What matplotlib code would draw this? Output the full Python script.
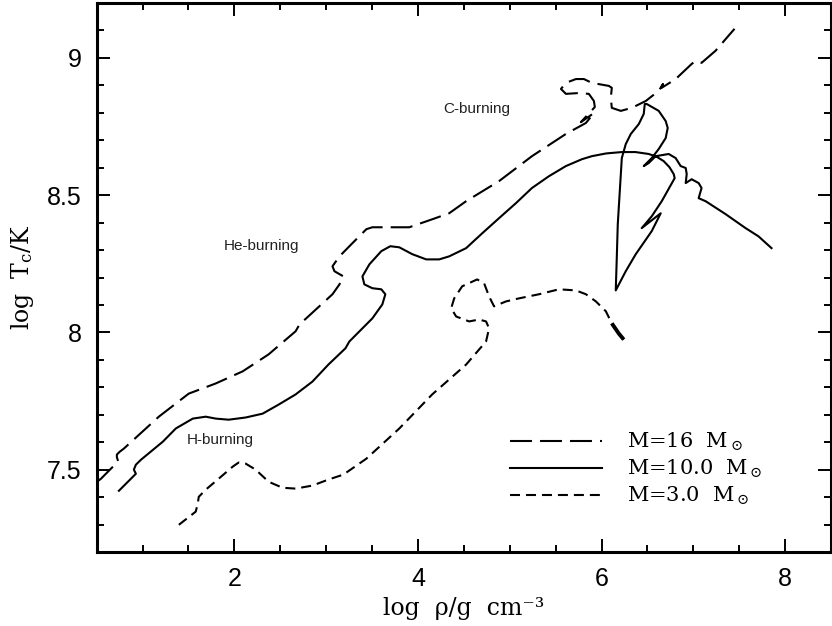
import matplotlib
matplotlib.use("Agg")
import matplotlib.pyplot as plt
from matplotlib.ticker import MultipleLocator, FuncFormatter

plt.rcParams["mathtext.fontset"] = "dejavuserif"
plt.rcParams["lines.scale_dashes"] = False

# central density / temperature tracks (log rho, log Tc)
rho_16 = [0.503, 0.547, 0.71, 0.735, 0.72, 0.72, 0.75, 0.797, 1.177, 1.503, 1.797,
          2.09, 2.373, 2.667, 2.71, 3.069, 3.145, 3.188, 3.09, 3.069, 3.145, 3.286,
          3.438, 3.503, 3.721, 3.905, 4.155, 4.34, 4.525, 4.883, 5.242, 5.612, 5.83,
          5.917, 5.775, 5.927, 5.917, 5.862, 5.753, 5.612, 5.558, 5.612, 5.721, 5.808,
          5.895, 6.08, 6.112, 6.101, 6.112, 6.21, 6.33, 6.482, 6.623, 6.67, 6.65,
          6.808, 6.982, 7.025, 7.09, 7.242, 7.449]
tc_16 = [7.456, 7.467, 7.522, 7.53, 7.545, 7.555, 7.565, 7.577, 7.693, 7.777, 7.814,
         7.858, 7.920, 8.004, 8.029, 8.139, 8.175, 8.204, 8.223, 8.241, 8.277, 8.325,
         8.376, 8.383, 8.383, 8.383, 8.412, 8.434, 8.478, 8.551, 8.642, 8.723, 8.763,
         8.799, 8.766, 8.821, 8.843, 8.869, 8.872, 8.869, 8.887, 8.909, 8.923, 8.923,
         8.909, 8.898, 8.891, 8.854, 8.818, 8.807, 8.818, 8.843, 8.880, 8.905, 8.89,
         8.923, 8.978, 8.989, 8.982, 9.026, 9.106]

rho_10 = [0.742, 0.927, 0.905, 0.927, 0.982, 1.221, 1.362, 1.547, 1.688, 1.797, 1.938,
          2.123, 2.308, 2.482, 2.667, 2.851, 3.025, 3.21, 3.253, 3.503, 3.612, 3.645,
          3.601, 3.503, 3.416, 3.395, 3.471, 3.601, 3.699, 3.797, 3.938, 4.09, 4.232,
          4.34, 4.525, 4.70, 4.883, 5.068, 5.242, 5.427, 5.612, 5.787, 5.895, 6.05,
          6.221, 6.37, 6.514, 6.60, 6.677, 6.74, 6.786, 6.797,
          6.656, 6.547, 6.438, 6.645, 6.547, 6.373, 6.264, 6.155, 6.166, 6.177, 6.199,
          6.221, 6.264, 6.319, 6.406, 6.460, 6.471, 6.493, 6.623, 6.699, 6.721, 6.699,
          6.623, 6.547, 6.460, 6.514, 6.590, 6.732, 6.808, 6.862, 6.917, 6.928, 6.917,
          6.982, 7.058, 7.090, 7.058, 7.134, 7.351, 7.569, 7.710, 7.852]
tc_10 = [7.423, 7.485, 7.500, 7.518, 7.536, 7.602, 7.650, 7.686, 7.693, 7.686, 7.682,
         7.690, 7.704, 7.737, 7.774, 7.821, 7.883, 7.942, 7.967, 8.051, 8.102, 8.139,
         8.157, 8.161, 8.175, 8.204, 8.248, 8.296, 8.314, 8.310, 8.285, 8.266, 8.266,
         8.277, 8.307, 8.361, 8.416, 8.471, 8.526, 8.569, 8.606, 8.631, 8.642, 8.652,
         8.657, 8.657, 8.650, 8.640, 8.624, 8.602, 8.577, 8.562,
         8.478, 8.423, 8.380, 8.434, 8.369, 8.285, 8.223, 8.153, 8.270, 8.394, 8.515,
         8.635, 8.686, 8.723, 8.759, 8.796, 8.832, 8.832, 8.807, 8.770, 8.745, 8.708,
         8.668, 8.635, 8.606, 8.617, 8.642, 8.650, 8.635, 8.606, 8.599, 8.577, 8.544,
         8.558, 8.544, 8.526, 8.489, 8.478, 8.431, 8.380, 8.350, 8.307]

rho_3 = [1.395, 1.579, 1.601, 1.612, 1.688, 1.829, 1.982, 2.047, 2.123, 2.232, 2.373,
         2.525, 2.667, 2.851, 3.025, 3.188, 3.438, 3.797, 4.155, 4.525, 4.742, 4.775,
         4.742, 4.666, 4.558, 4.416, 4.362, 4.395, 4.482, 4.645, 4.721, 4.775, 4.829,
         4.960, 5.101, 5.319, 5.536, 5.721, 5.830, 5.938, 6.047, 6.112, 6.188, 6.242]
tc_3 = [7.299, 7.347, 7.376, 7.401, 7.427, 7.467, 7.511, 7.526, 7.522, 7.500, 7.456,
        7.434, 7.431, 7.442, 7.464, 7.482, 7.540, 7.650, 7.774, 7.883, 7.967, 8.015,
        8.040, 8.047, 8.040, 8.058, 8.088, 8.124, 8.168, 8.193, 8.179, 8.131, 8.095,
        8.113, 8.124, 8.139, 8.157, 8.153, 8.139, 8.113, 8.077, 8.033, 7.996, 7.974]

labels = [r"M=16  M$_\odot$", r"M=10.0  M$_\odot$", r"M=3.0  M$_\odot$"]
phases = ["C-burning", "He-burning", "H-burning"]
phase_rho = [4.645, 2.297, 1.851]
phase_tc = [8.814, 8.314, 7.609]

fig = plt.figure(figsize=(8.32, 6.26), dpi=100)
ax = fig.add_axes([0.1162, 0.1182, 0.8826, 0.877])

l16, = ax.plot(rho_16, tc_16, color="black", lw=1.5, dashes=(15.8, 5.8),
               solid_joinstyle="round")
l10, = ax.plot(rho_10, tc_10, color="black", lw=1.5, solid_joinstyle="round")
l3, = ax.plot(rho_3, tc_3, color="black", lw=1.5, dashes=(7.2, 4.3))
# the end of the 3 Msun track is densely sampled and looks solid
ax.plot(rho_3[-3:], tc_3[-3:], color="black", lw=2.8, solid_capstyle="butt")

for txt, xr, yt in zip(phases, phase_rho, phase_tc):
    ax.text(xr, yt, txt, ha="center", va="center", fontsize=11,
            family="Liberation Sans", color="#222222")

ax.set_xlim(0.5, 8.5)
ax.set_ylim(7.2, 9.2)
ax.xaxis.set_major_locator(MultipleLocator(2))
ax.xaxis.set_minor_locator(MultipleLocator(0.5))
ax.yaxis.set_major_locator(MultipleLocator(0.5))
ax.yaxis.set_minor_locator(MultipleLocator(0.1))
ax.yaxis.set_major_formatter(FuncFormatter(lambda v, p: "%g" % v))
ax.tick_params(which="both", direction="in", top=True, right=True, width=1.4)
ax.tick_params(which="major", length=9.4, labelsize=18, pad=11)
ax.tick_params(which="minor", length=4.7)
for lab in ax.get_xticklabels() + ax.get_yticklabels():
    lab.set_family("Liberation Sans")
for sp in ax.spines.values():
    sp.set_linewidth(2.2)

ax.set_xlabel("log  ρ/g  cm⁻³", family="DejaVu Serif", fontsize=17, labelpad=4)
ax.set_ylabel(r"log  T$_{\rm c}$/K", family="DejaVu Serif", fontsize=17, labelpad=8)

ax.legend([l16, l10, l3], labels, loc="center left", bbox_to_anchor=(0.563, 0.151),
          frameon=False, borderpad=0, borderaxespad=0, handlelength=4.4,
          handletextpad=1.2, labelspacing=0.22,
          prop={"family": "DejaVu Serif", "size": 15})

fig.savefig("out.png", dpi=100)
